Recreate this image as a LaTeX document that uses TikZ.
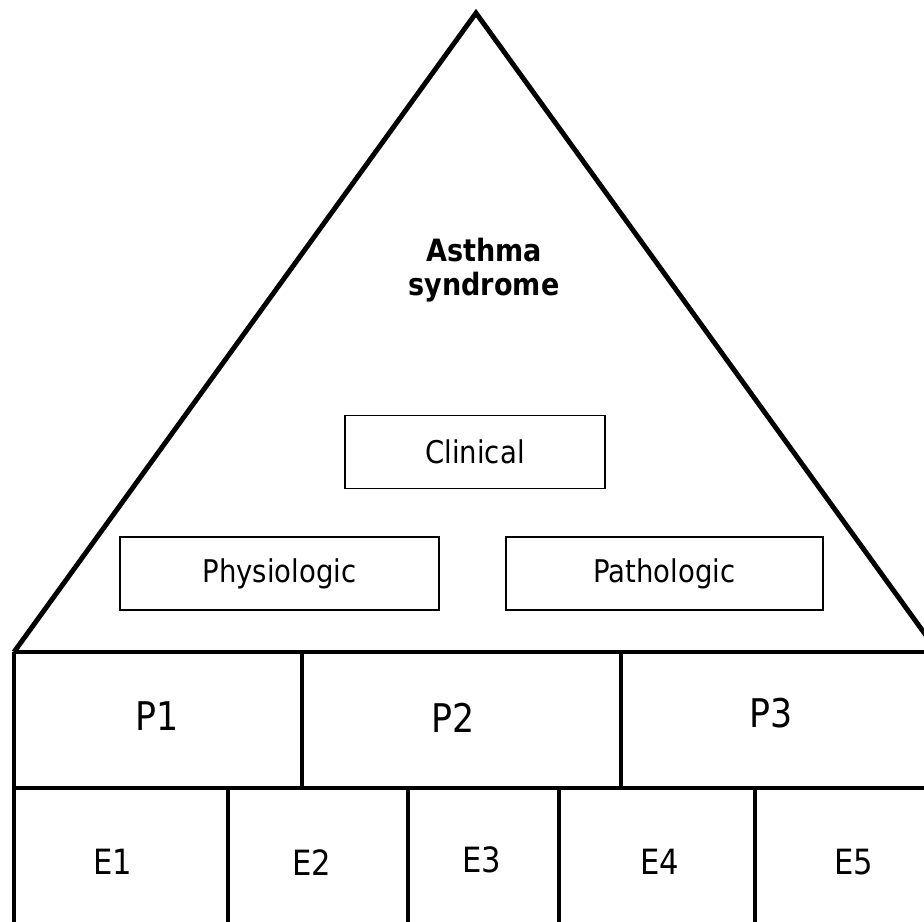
\documentclass[tikz,border=0pt]{standalone}
\usepackage{fontspec}
\setmainfont{DejaVu Sans}[FakeStretch=0.88]
\usepackage{tikz}
\usetikzlibrary{calc}
\tikzset{thick line/.style={line width=2.8pt},level box/.style={draw,line width=0.9pt,minimum height=73*0.02cm,font=\fontsize{17.8}{20}\selectfont},title label/.style={font=\fontsize{17.5}{19.5}\selectfont\bfseries,align=center},big label/.style={font=\fontsize{22.5}{26}\selectfont},cell label/.style={font=\fontsize{19.8}{22}\selectfont}}

\begin{document}
\begin{tikzpicture}[x=0.02cm,y=-0.02cm]
			\useasboundingbox (0,0) rectangle (924,921);
			\clip (0,0) rectangle (924,921);
			\coordinate (A) at (476,13);
			\coordinate (L) at (14,652);
			\coordinate (R) at (938,652);
			\coordinate (M) at (14,788);
			\draw[thick line,line join=miter] (L) -- (A) -- (R);
			\draw[thick line] (L) -- (930,652);
			\draw[thick line] (L) -- (14,925);
			\draw[line width=2.4pt] (M) -- (930,788);
			\draw[thick line] (302,652) -- (302,788);
			\draw[thick line] (621,652) -- (621,788);
			\foreach \x in {228,408,559,755}
				\draw[thick line] (\x,786) -- (\x,925);
			\node[title label] (syndrome) at (484,270) {Asthma\\syndrome};
			\node[level box,minimum width=260*0.02cm] (clinical) at (475,452) {Clinical};
			\node[level box,minimum width=319*0.02cm] (physio) at (279.5,573.5) {Physiologic};
			\node[level box,minimum width=317*0.02cm] (patho) at (664.5,573.5) {Pathologic};
			\node[big label] (p1) at (157,716) {P1};
			\node[big label] (p2) at (453,718) {P2};
			\node[big label] (p3) at (771,713) {P3};
			\node[cell label] (e1) at (113,862) {E1};
			\node[cell label] (e2) at (312,863) {E2};
			\node[cell label] (e3) at (482,860) {E3};
			\node[cell label] (e4) at (660,862) {E4};
			\node[cell label] (e5) at (854,862) {E5};
		\end{tikzpicture}
\end{document}
